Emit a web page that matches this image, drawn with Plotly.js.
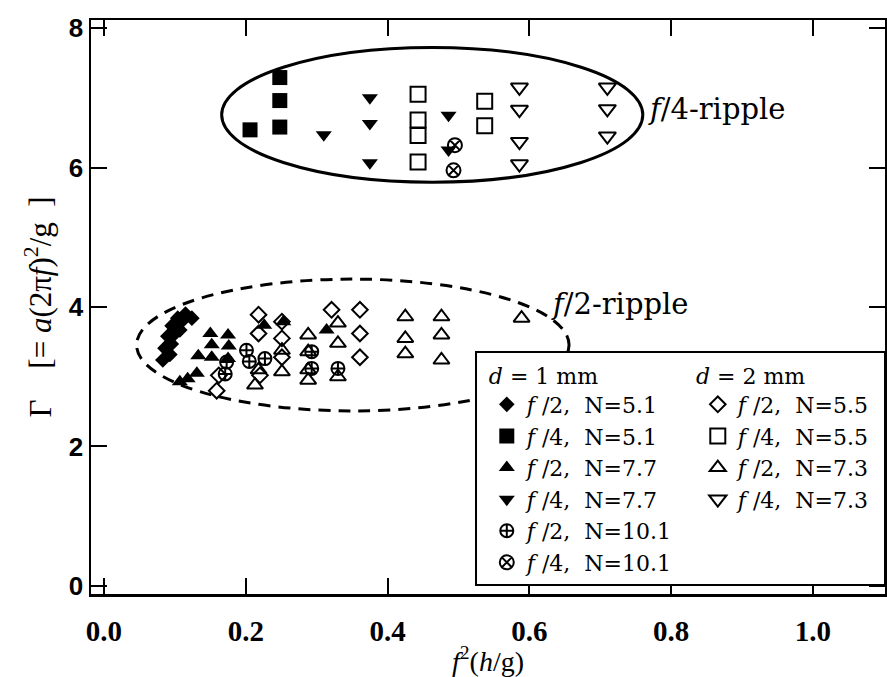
<!DOCTYPE html>
<html><head><meta charset="utf-8">
<script src="https://cdn.plot.ly/plotly-3.0.1.min.js"></script>
<style>body{margin:0;background:#fff}</style>
</head><body><div id="chart" style="width:887px;height:677px"></div>
<script>
// ---- data ----
// d = 1 mm
const f2N51_x = [0.083,0.086,0.090,0.093,0.096,0.095,0.100,0.104,0.110,0.115,0.124,0.107];
const f2N51_y = [3.24,3.41,3.58,3.32,3.73,3.47,3.62,3.84,3.80,3.90,3.84,3.67];
const f4N51_x = [0.206,0.248,0.248,0.248];
const f4N51_y = [6.54,7.29,6.96,6.58];
const f2N77_x = [0.107,0.118,0.131,0.133,0.150,0.152,0.152,0.175,0.176,0.175,0.226,0.253,0.314];
const f2N77_y = [2.93,2.97,3.05,3.30,3.62,3.46,3.28,3.60,3.44,3.26,3.74,3.79,3.67];
const f4N77_x = [0.310,0.375,0.375,0.375,0.486,0.486];
const f4N77_y = [6.47,7.00,6.63,6.07,6.75,6.25];
const f2N101_x = [0.171,0.173,0.201,0.205,0.227,0.293,0.293,0.330];
const f2N101_y = [3.04,3.21,3.38,3.22,3.26,3.36,3.12,3.12];
const f4N101_x = [0.495,0.493];
const f4N101_y = [6.32,5.96];
// d = 2 mm
const f2N55_x = [0.159,0.162,0.218,0.218,0.220,0.251,0.251,0.251,0.321,0.361,0.361,0.361];
const f2N55_y = [2.80,3.02,3.89,3.62,3.02,3.79,3.55,3.28,3.96,3.96,3.62,3.28];
const f4N55_x = [0.443,0.443,0.443,0.443,0.537,0.537];
const f4N55_y = [7.05,6.68,6.46,6.08,6.95,6.60];
const f2N73_x = [0.213,0.218,0.251,0.251,0.288,0.288,0.288,0.288,0.330,0.330,0.330,0.425,0.425,0.425,0.476,0.476,0.476,0.589];
const f2N73_y = [2.88,3.10,3.38,3.07,3.60,3.36,3.10,2.95,3.77,3.48,3.00,3.86,3.55,3.33,3.86,3.60,3.24,3.84];
const f4N73_x = [0.586,0.586,0.586,0.586,0.710,0.710,0.710];
const f4N73_y = [7.15,6.83,6.37,6.05,7.15,6.84,6.45];

const xTicks = [0.0,0.2,0.4,0.6,0.8,1.0];
const yTicks = [0,2,4,6,8];

// ---- build ----
const NB = '\u00a0';
function lbl(k, n){ return '<i>f</i>'+NB+'/'+k+','+NB+NB+'N='+n; }
function tr(name, xs, ys, symbol, size, rank, col2){
  const t = {type:'scatter', mode:'markers', x:xs, y:ys, name:name, legendrank:rank,
    marker:{symbol:symbol, size:size, color:'#000', line:{color:'#000', width: symbol.indexOf('open')>=0 ? 2 : 0}},
    hoverinfo:'skip'};
  if (col2) t.legendwidth = 143;
  return t;
}
const data = [
  tr(lbl(2,'5.1'), f2N51_x, f2N51_y, 'diamond', 12, 1, false),
  tr(lbl(2,'5.5'), f2N55_x, f2N55_y, 'diamond-open', 12, 2, true),
  tr(lbl(4,'5.1'), f4N51_x, f4N51_y, 'square', 15, 3, false),
  tr(lbl(4,'5.5'), f4N55_x, f4N55_y, 'square-open', 15, 4, true),
  tr(lbl(2,'7.3'), f2N73_x, f2N73_y, 'triangle-up-open', 14, 6, true),
  tr(lbl(2,'7.7'), f2N77_x, f2N77_y, 'triangle-up', 14, 5, false),
  tr(lbl(4,'7.7'), f4N77_x, f4N77_y, 'triangle-down', 14, 7, false),
  tr(lbl(4,'7.3'), f4N73_x, f4N73_y, 'triangle-down-open', 15, 8, true),
  tr(lbl(2,'10.1'), f2N101_x, f2N101_y, 'circle-cross-open', 13, 9, false),
  {type:'scatter', mode:'markers', x:[null], y:[null], name:NB, legendrank:10, legendwidth:143,
   marker:{color:'rgba(0,0,0,0)', size:1, line:{width:0}}, hoverinfo:'skip'},
  tr(lbl(4,'10.1'), f4N101_x, f4N101_y, 'circle-x-open', 14, 11, false)
];

const serif = 'Liberation Serif';
const layout = {
  width:887, height:677,
  margin:{l:91, r:2, t:20, b:83, autoexpand:false},
  paper_bgcolor:'#fff', plot_bgcolor:'#fff',
  showlegend:true,
  xaxis:{range:[-0.0183,1.1016], tickvals:xTicks, ticktext:xTicks.map(v=>v.toFixed(1)),
    ticks:'inside', ticklen:16, tickwidth:2, tickcolor:'#000', mirror:'ticks',
    showline:true, linewidth:2.5, linecolor:'#000', showgrid:false, zeroline:false,
    ticklabelstandoff:10,
    tickfont:{family:serif, size:29, weight:'bold', color:'#000'},
    title:{text:'<i>f</i><sup>2</sup>(<i>h</i>/g)', font:{family:serif, size:28, color:'#000'}, standoff:4}},
  yaxis:{range:[-0.115,8.115], tickvals:yTicks, ticktext:yTicks.map(String),
    ticks:'inside', ticklen:16, tickwidth:2, tickcolor:'#000', mirror:'ticks',
    showline:true, linewidth:2.5, linecolor:'#000', showgrid:false, zeroline:false,
    tickfont:{family:'Liberation Sans', size:26, weight:'bold', color:'#000'},
    title:{text:'\u0393'+NB+NB+NB+NB+'[='+NB+'<i>a</i>(2\u03c0<i>f</i>)<sup>2</sup>/g'+NB+NB+']', font:{family:serif, size:31, color:'#000'}, standoff:8}},
  shapes:[
    {type:'circle', xref:'x', yref:'y', x0:0.166, x1:0.760, y0:5.79, y1:7.72, layer:'above',
     line:{color:'#000', width:3}},
    {type:'circle', xref:'x', yref:'y', x0:0.046, x1:0.656, y0:2.51, y1:4.40, layer:'above',
     line:{color:'#000', width:3, dash:'12px,8px'}},
    {type:'rect', xref:'paper', yref:'paper', x0:0.4849, x1:1.0, y0:0.0157, y1:0.4216, layer:'above',
     fillcolor:'#fff', line:{color:'#000', width:2}}
  ],
  annotations:[
    {x:0.765, y:6.84, xref:'x', yref:'y', xanchor:'left', showarrow:false,
     text:'<i>f</i>/4-ripple', font:{family:'DejaVu Serif', size:29, color:'#000'}},
    {x:0.628, y:4.05, xref:'x', yref:'y', xanchor:'left', showarrow:false,
     text:'<i>f</i>/2-ripple', font:{family:'DejaVu Serif', size:29, color:'#000'}}
  ],
  legend:{orientation:'h', x:1.001, xanchor:'right', y:0.4165, yanchor:'top',
    bgcolor:'rgba(0,0,0,0)', borderwidth:0, entrywidth:166, entrywidthmode:'pixels',
    itemsizing:'trace', traceorder:'normal',
    font:{family:'DejaVu Serif', size:22, color:'#000'},
    title:{text:'<i>d</i>'+NB+'='+NB+'1'+NB+'mm'+NB.repeat(14)+'<i>d</i>'+NB+'='+NB+'2'+NB+'mm', side:'top',
      font:{family:'DejaVu Serif', size:22, color:'#000'}}}
};
Plotly.newPlot('chart', data, layout, {staticPlot:true, displayModeBar:false});
</script></body></html>
